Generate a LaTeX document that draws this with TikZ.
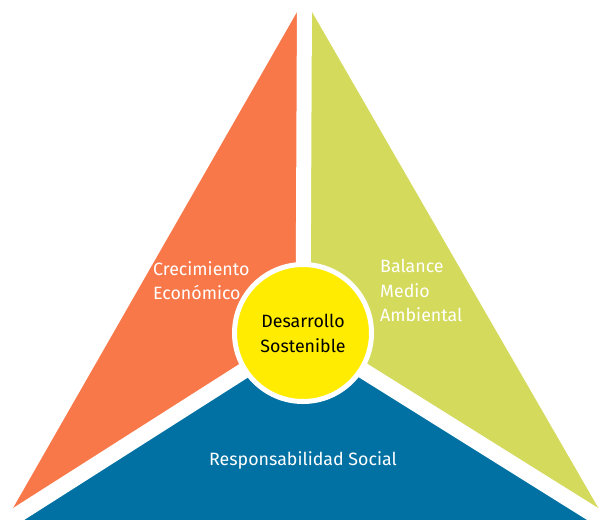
\documentclass[tikz,border=0pt]{standalone}
\usepackage{fontspec}
\setmainfont{Fira Sans}
\definecolor{econ}{HTML}{F8784A}
\definecolor{ambi}{HTML}{D4DA5B}
\definecolor{soci}{HTML}{0071A2}
\definecolor{core}{HTML}{FFEC00}

\begin{document}
\begin{tikzpicture}[
    x=1pt, y=-1pt,
    gap/.style={draw=white,line width=16pt},
    pillar/.style={text=white,font=\fontsize{17.8}{24.5}\selectfont,align=left,inner sep=0pt},
  ]
  \useasboundingbox (0,0) rectangle (607,519);
  \clip (0,0) rectangle (607,519);

  \coordinate (apex) at (304.5,-1);
  \coordinate (left) at (4.5,523);
  \coordinate (right) at (607,523);
  \coordinate (hub) at (303,333);

  % the three sectors
  \fill[econ] (apex) -- (left) -- (hub) -- cycle;
  \fill[ambi] (apex) -- (right) -- (hub) -- cycle;
  \fill[soci] (left) -- (right) -- (hub) -- cycle;

  \draw[gap,line width=15pt] (hub) -- (apex);
  \draw[gap] (hub) -- (left);
  \draw[gap] (hub) -- (right);

  \node[circle,fill=core,draw=white,line width=5pt,minimum size=137pt,
        align=center,font=\fontsize{17.8}{25}\selectfont] (core) at (hub)
    {Desarrollo\\Sostenible};

  \node[pillar,anchor=west] (econtext) at (153,280.5) {Crecimiento\\Económico};
  \node[pillar,anchor=west] (ambitext) at (380,290.5) {Balance\\Medio\\Ambiental};
  \node[pillar,anchor=center] (socitext) at (303,460) {Responsabilidad Social};
\end{tikzpicture}
\end{document}
